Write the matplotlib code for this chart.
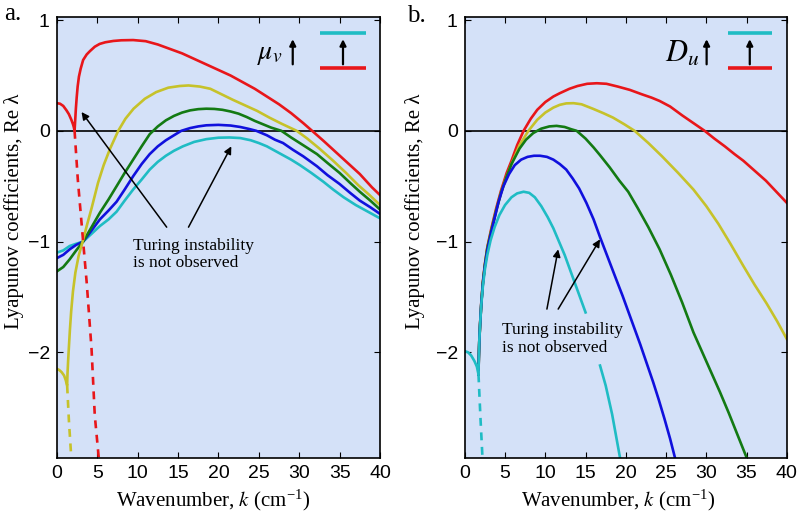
import numpy as np
import matplotlib
matplotlib.use("Agg")
import matplotlib.pyplot as plt

# colours of the five curves (cyan = lowest parameter, red = highest)
c_cyan = "#1fbcc4"
c_blue = "#1010dd"
c_green = "#137a13"
c_yellow = "#c6c22a"
c_red = "#e8161a"
bg = "#d4e1f8"

# ---------------- panel a : mu_v varied ----------------
red_a_k = [0, 0.4, 0.8, 1.2, 1.5, 1.8, 2.0, 2.1, 2.2,
           2.28, 2.36, 2.46, 2.58, 2.74, 2.95, 3.26, 3.7, 4.1, 4.7, 5.3, 6.0, 7.0, 8.0, 9.45,
           11.0, 12.5, 14.0, 15.5, 17.0, 18.5, 20.0, 21.5, 23.0, 24.5, 26.0, 27.5, 29.0, 30.5,
           31.6, 33.0, 34.5, 36.0, 37.5, 39.0, 40]
red_a_v = [0.25, 0.245, 0.225, 0.185, 0.15, 0.10, 0.06, 0.035, 0.0,
           0.10, 0.20, 0.30, 0.40, 0.49, 0.56, 0.64, 0.69, 0.72, 0.76, 0.785, 0.80, 0.812, 0.818, 0.82,
           0.81, 0.78, 0.74, 0.70, 0.65, 0.60, 0.55, 0.50, 0.44, 0.38, 0.31, 0.24, 0.16, 0.07,
           0.0, -0.09, -0.19, -0.29, -0.39, -0.51, -0.58]
red_a_dash_k = [2.2, 2.6, 3.26, 3.7, 4.3, 4.7, 5.2]
red_a_dash_v = [0.0, -0.44, -1.0, -1.37, -1.97, -2.57, -2.96]

yellow_a_k = [0, 0.3, 0.6, 0.9, 1.1, 1.28,
              1.32, 1.4, 1.5, 1.62, 1.78, 2.0, 2.3, 2.7, 3.2, 3.7, 4.3, 5.1, 5.8, 6.6, 7.6, 8.5,
              9.5, 10.9, 12.3, 13.8, 15.2, 16.3, 17.7, 19.0, 20.4, 21.8, 23.3, 24.8, 26.3, 27.8,
              29.7, 31.0, 32.5, 34.2, 35.8, 37.3, 38.7, 40]
yellow_a_v = [-2.15, -2.16, -2.18, -2.21, -2.25, -2.30,
              -2.20, -2.08, -1.95, -1.80, -1.63, -1.45, -1.28, -1.13, -1.0, -0.86, -0.70, -0.47, -0.31, -0.16, 0.0, 0.11,
              0.20, 0.29, 0.35, 0.39, 0.405, 0.41, 0.40, 0.38, 0.33, 0.28, 0.23, 0.18, 0.12, 0.065,
              0.0, -0.07, -0.16, -0.27, -0.38, -0.49, -0.58, -0.67]
yellow_a_dash_k = [1.28, 1.5, 1.8]
yellow_a_dash_v = [-2.30, -2.62, -2.96]

green_a_k = [0, 0.8, 1.6, 2.4, 3.26, 4.3, 5.33, 6.4, 7.4, 8.4, 9.45, 10.5, 11.5, 12.5, 13.5, 14.5,
             15.5, 16.5, 17.5, 18.5, 19.5, 20.5, 21.5, 22.5, 23.5, 24.5, 25.5, 26.5, 27.8, 29.0,
             30.5, 32.2, 33.5, 35.0, 36.3, 37.5, 38.8, 40]
green_a_v = [-1.27, -1.23, -1.16, -1.08, -1.0, -0.87, -0.74, -0.62, -0.50, -0.38, -0.26, -0.14, -0.03, 0.04, 0.095, 0.135,
             0.165, 0.185, 0.196, 0.20, 0.198, 0.19, 0.175, 0.155, 0.125, 0.09, 0.06, 0.03, 0.0, -0.06,
             -0.13, -0.21, -0.29, -0.38, -0.47, -0.55, -0.63, -0.71]

blue_a_k = [0, 0.8, 1.6, 2.4, 3.26, 4.3, 5.33, 6.4, 7.4, 8.4, 9.45, 10.5, 11.5, 12.5, 13.5, 14.5,
            15.4, 16.5, 17.5, 18.5, 20.0, 21.5, 22.7, 23.8, 24.7, 26.0, 27.0, 28.0, 29.2, 30.5,
            32.2, 33.5, 35.0, 36.3, 37.5, 38.8, 40]
blue_a_v = [-1.15, -1.12, -1.07, -1.03, -1.0, -0.90, -0.80, -0.72, -0.64, -0.53, -0.41, -0.30, -0.21, -0.14, -0.085, -0.04,
            0.0, 0.025, 0.04, 0.05, 0.054, 0.048, 0.035, 0.017, 0.0, -0.04, -0.08, -0.11, -0.17, -0.23,
            -0.32, -0.40, -0.48, -0.56, -0.63, -0.69, -0.75]

cyan_a_k = [0, 0.8, 1.6, 2.4, 3.26, 4.3, 5.33, 6.4, 7.4, 8.4, 9.45, 10.5, 11.5, 12.5, 13.5, 14.5,
            15.6, 17.0, 18.5, 20.0, 21.4, 22.7, 24.0, 25.0, 26.0, 27.5, 29.0, 30.1, 31.5, 33.0,
            34.2, 35.5, 37.0, 38.5, 40]
cyan_a_v = [-1.10, -1.08, -1.04, -1.02, -1.0, -0.93, -0.86, -0.80, -0.73, -0.63, -0.53, -0.44, -0.35, -0.28, -0.225, -0.18,
            -0.14, -0.10, -0.075, -0.062, -0.06, -0.065, -0.085, -0.11, -0.14, -0.20, -0.26, -0.31, -0.38, -0.46,
            -0.53, -0.60, -0.67, -0.73, -0.79]

# ---------------- panel b : D_u varied ----------------
cyan_b_k = [0, 0.4, 0.8, 1.2, 1.5, 1.7,
            1.74, 1.8, 1.9, 2.05, 2.25, 2.5, 2.8, 3.2, 3.7, 4.3, 5.0, 5.8, 6.5, 7.3, 8.0, 8.7,
            9.5, 10.3, 11.0, 11.7, 12.4, 13.1, 13.8, 14.4, 15.0]
cyan_b_v = [-1.99, -2.0, -2.03, -2.08, -2.13, -2.2,
            -2.05, -1.90, -1.75, -1.57, -1.40, -1.25, -1.12, -0.99, -0.87, -0.76, -0.67, -0.60, -0.565, -0.55, -0.56, -0.60,
            -0.68, -0.78, -0.88, -1.0, -1.12, -1.26, -1.40, -1.52, -1.64]
cyan_b2_k = [16.8, 17.5, 18.3, 19.3]
cyan_b2_v = [-2.12, -2.30, -2.56, -2.96]
cyan_b_dash_k = [1.7, 1.95, 2.2]
cyan_b_dash_v = [-2.2, -2.6, -2.96]

blue_b_k = [1.7, 1.74, 1.8, 1.9, 2.05, 2.25, 2.5, 2.8, 3.15, 3.6, 4.2, 4.8, 5.5, 6.2, 7.0, 7.8,
            8.6, 9.35, 10.2, 11.0, 11.8, 12.6, 13.4, 14.2, 15.1, 16.0, 16.8, 17.8, 18.8, 19.6,
            20.3, 21.1, 21.8, 22.6, 23.4, 24.1, 24.8, 25.5, 26.1]
blue_b_v = [-2.2, -2.05, -1.90, -1.75, -1.56, -1.38, -1.22, -1.08, -0.96, -0.82, -0.64, -0.50, -0.39, -0.31, -0.26, -0.235,
            -0.225, -0.225, -0.235, -0.26, -0.30, -0.35, -0.43, -0.52, -0.65, -0.80, -0.96, -1.15, -1.34, -1.49,
            -1.63, -1.79, -1.93, -2.10, -2.27, -2.43, -2.60, -2.78, -2.95]

green_b_k = [1.7, 1.74, 1.8, 1.9, 2.05, 2.25, 2.5, 2.8, 3.3, 3.9, 4.5, 5.2, 5.8, 6.8, 7.6, 8.5,
             9.5, 10.5, 11.4, 12.4, 13.2, 13.9, 15.0, 16.0, 16.8, 18.0, 19.2, 20.3, 21.5, 22.8,
             24.2, 25.6, 27.0, 28.4, 29.5, 30.6, 31.7, 32.8, 33.9, 35.0]
green_b_v = [-2.2, -2.05, -1.90, -1.75, -1.56, -1.37, -1.21, -1.06, -0.90, -0.72, -0.56, -0.41, -0.30, -0.16, -0.08, -0.02,
             0.02, 0.04, 0.045, 0.035, 0.015, 0.0, -0.07, -0.15, -0.22, -0.33, -0.45, -0.55, -0.70, -0.87,
             -1.07, -1.30, -1.55, -1.82, -2.0, -2.18, -2.36, -2.55, -2.75, -2.95]

yellow_b_k = [1.7, 1.74, 1.8, 1.9, 2.05, 2.25, 2.5, 2.8, 3.3, 3.9, 4.5, 5.2, 5.8, 6.8, 7.9, 9.0,
              10.0, 11.0, 11.8, 12.6, 13.5, 14.5, 15.9, 17.2, 18.4, 19.8, 21.1, 22.8, 24.5, 26.5,
              28.4, 30.0, 31.5, 33.0, 34.6, 36.0, 37.5, 38.8, 40]
yellow_b_v = [-2.2, -2.05, -1.90, -1.75, -1.56, -1.37, -1.21, -1.06, -0.90, -0.72, -0.56, -0.41, -0.30, -0.13, 0.0, 0.10,
              0.165, 0.21, 0.235, 0.248, 0.25, 0.24, 0.20, 0.16, 0.12, 0.06, 0.0, -0.11, -0.23, -0.38,
              -0.53, -0.68, -0.84, -1.02, -1.22, -1.39, -1.56, -1.72, -1.88]

red_b_k = [1.7, 1.74, 1.8, 1.9, 2.05, 2.25, 2.5, 2.8, 3.3, 3.9, 4.5, 5.2, 5.8, 6.5, 7.3, 8.2,
           9.0, 10.0, 11.0, 11.8, 13.0, 14.0, 15.2, 16.4, 17.6, 19.0, 20.5, 22.0, 23.2, 24.2,
           25.5, 27.0, 28.4, 29.8, 31.0, 32.3, 33.5, 34.6, 36.0, 37.4, 38.7, 40]
red_b_v = [-2.2, -2.05, -1.90, -1.74, -1.55, -1.36, -1.20, -1.05, -0.88, -0.70, -0.54, -0.38, -0.27, -0.13, 0.0, 0.11,
           0.19, 0.26, 0.31, 0.34, 0.38, 0.405, 0.425, 0.43, 0.425, 0.40, 0.37, 0.33, 0.30, 0.27,
           0.22, 0.14, 0.07, 0.0, -0.07, -0.14, -0.21, -0.27, -0.36, -0.45, -0.55, -0.65]

xticks = [0, 5, 10, 15, 20, 25, 30, 35, 40]
yticks = [-2, -1, 0, 1]
ytick_labels = ["\u22122", "\u22121", "0", "1"]
note = "Turing instability\nis not observed"

lw = 1.9
serif = ["Liberation Serif", "DejaVu Serif"]
plt.rcParams["mathtext.fontset"] = "stix"

fig = plt.figure(figsize=(8, 5.15), dpi=100)
ax_a = fig.add_axes([0.071, 0.1107, 0.404, 0.856])
ax_b = fig.add_axes([0.581, 0.1107, 0.4025, 0.856])


def style(ax, xl_x, yl_x):
    ax.set_facecolor(bg)
    ax.set_xlim(0, 40)
    ax.set_ylim(-2.955, 1.027)
    ax.set_xticks(xticks)
    ax.set_yticks(yticks)
    ax.set_yticklabels(ytick_labels)
    ax.tick_params(direction="in", top=True, right=True, length=4, width=0.8,
                   labelsize=14, pad=5)
    for lab in ax.get_xticklabels() + ax.get_yticklabels():
        lab.set_family("Liberation Sans")
    for s in ax.spines.values():
        s.set_linewidth(1.2)
    ax.axhline(0, color="black", lw=1.2, zorder=1)
    ax.set_xlabel("Wavenumber, $\\mathit{k}$ (cm$^{\\mathregular{-1}}$)", family=serif,
                  fontsize=15)
    ax.set_ylabel("Lyapunov coefficients, Re \u03bb", family=serif, fontsize=15)
    ax.xaxis.set_label_coords(xl_x, -0.068)
    ax.yaxis.set_label_coords(yl_x, 0.56)


def key(ax, sym, xs, x0, x1, xa, fs):
    ax.text(xs, 0.918, sym, transform=ax.transAxes, ha="right", va="center", fontsize=fs)
    ax.plot([x0, x1], [0.964, 0.964], color=c_cyan, lw=2.6, transform=ax.transAxes,
            clip_on=False, solid_capstyle="butt")
    ax.plot([x0, x1], [0.884, 0.884], color=c_red, lw=2.6, transform=ax.transAxes,
            clip_on=False, solid_capstyle="butt")
    for x in [xa, (x0 + x1) / 2]:
        ax.annotate("", xy=(x, 0.950), xytext=(x, 0.893), xycoords="axes fraction",
                    arrowprops=dict(arrowstyle="-|>", color="black", lw=1.6,
                                    mutation_scale=9, shrinkA=0, shrinkB=0))


def pointer(ax, tail, head):
    ax.annotate("", xy=head, xytext=tail,
                arrowprops=dict(arrowstyle="-|>", color="black", lw=1.1, mutation_scale=11,
                                shrinkA=0, shrinkB=0))


# panel a
style(ax_a, 0.485, -0.102)
ax_a.plot(cyan_a_k, cyan_a_v, color=c_cyan, lw=lw)
ax_a.plot(blue_a_k, blue_a_v, color=c_blue, lw=lw)
ax_a.plot(green_a_k, green_a_v, color=c_green, lw=lw)
ax_a.plot(yellow_a_k, yellow_a_v, color=c_yellow, lw=lw)
ax_a.plot(yellow_a_dash_k, yellow_a_dash_v, color=c_yellow, lw=lw, ls=(0, (3, 2.5)))
ax_a.plot(red_a_k, red_a_v, color=c_red, lw=lw)
ax_a.plot(red_a_dash_k, red_a_dash_v, color=c_red, lw=lw, ls=(0, (3, 2.5)))
ax_a.text(9.45, -1.12, note, family=serif, fontsize=12.5, ha="left", va="center",
          linespacing=1.1)
pointer(ax_a, (13.6, -0.87), (3.06, 0.17))
pointer(ax_a, (16.3, -0.87), (21.6, -0.14))
key(ax_a, "$\\mu_v$", 0.70, 0.814, 0.957, 0.730, 20)

# panel b
style(ax_b, 0.478, -0.124)
ax_b.plot(red_b_k, red_b_v, color=c_red, lw=lw)
ax_b.plot(yellow_b_k, yellow_b_v, color=c_yellow, lw=lw)
ax_b.plot(green_b_k, green_b_v, color=c_green, lw=lw)
ax_b.plot(blue_b_k, blue_b_v, color=c_blue, lw=lw)
ax_b.plot(cyan_b_k, cyan_b_v, color=c_cyan, lw=lw)
ax_b.plot(cyan_b2_k, cyan_b2_v, color=c_cyan, lw=lw)
ax_b.plot(cyan_b_dash_k, cyan_b_dash_v, color=c_cyan, lw=lw, ls=(0, (3, 2.5)))
ax_b.text(4.56, -1.88, note, family=serif, fontsize=12.5, ha="left", va="center",
          linespacing=1.1)
pointer(ax_b, (10.2, -1.61), (11.6, -1.07))
pointer(ax_b, (11.6, -1.61), (16.8, -0.98))
key(ax_b, "$D_u$", 0.73, 0.817, 0.953, 0.751, 22)

fig.text(0.005, 0.961, "a.", family=serif, fontsize=18, va="baseline")
fig.text(0.509, 0.957, "b.", family=serif, fontsize=18, va="baseline")

fig.savefig("out.png", dpi=100)
